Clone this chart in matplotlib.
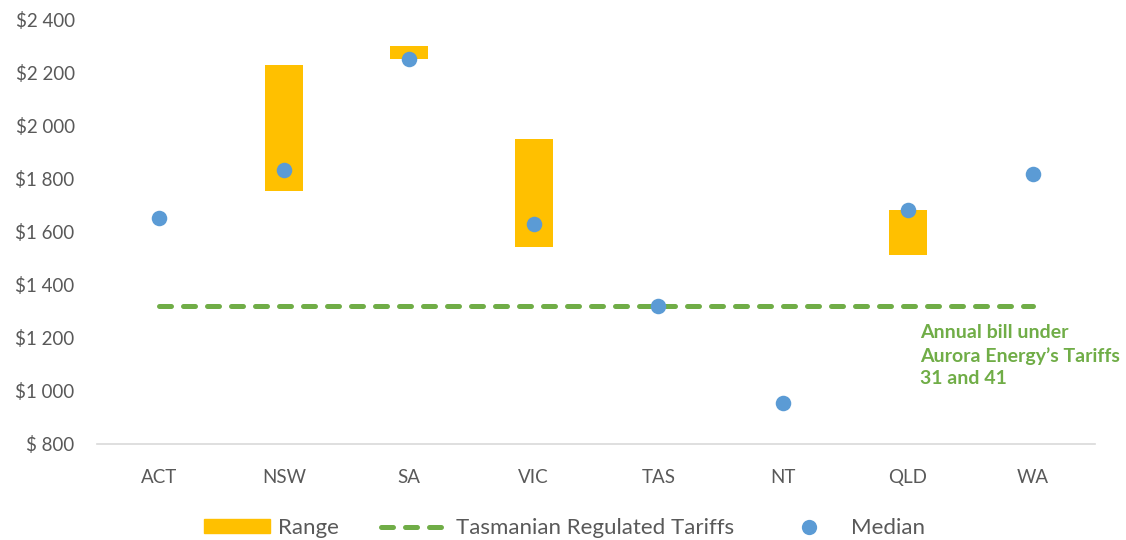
import numpy as np
import matplotlib.pyplot as plt
import matplotlib.lines as mlines
import matplotlib.patches as mpatches

# ---Data---
states = ['ACT', 'NSW', 'SA', 'VIC', 'TAS', 'NT', 'QLD', 'WA']
range_low = [np.nan, 1752, 2248, 1542, np.nan, np.nan, 1511, np.nan]
range_high = [np.nan, 2225, 2300, 1950, np.nan, np.nan, 1680, np.nan]
median = [1652, 1830, 2250, 1630, 1320, 955, 1680, 1815]
tas_tariff = 1320
yticks = [800, 1000, 1200, 1400, 1600, 1800, 2000, 2200, 2400]
ytick_labels = ['$ 800', '$1 000', '$1 200', '$1 400', '$1 600',
                '$1 800', '$2 000', '$2 200', '$2 400']

gold = '#FFC000'
blue = '#5B9BD5'
green = '#70AD47'
grey = '#595959'

plt.rcParams['font.family'] = ['Lato', 'DejaVu Sans']

fig = plt.figure(figsize=(11.26, 5.4), dpi=100)
ax = fig.add_axes([0.0861, 0.1778, 0.8864, 0.787])

x = np.arange(len(states))
low = np.array(range_low)
high = np.array(range_high)
ax.bar(x, high - low, bottom=low, width=0.305, color=gold, zorder=2)

# tariff line from first to last state
ax.plot([x[0], x[-1]], [tas_tariff, tas_tariff], color=green, lw=3.6,
        dashes=(2.4, 2.4), dash_capstyle='round', zorder=3)

ax.scatter(x, median, s=125, color=blue, zorder=4, linewidths=0)

ax.text(6.1, 1252, 'Annual bill under\nAurora Energy\u2019s Tariffs\n31 and 41',
        color=green, fontsize=14, fontweight='bold', va='top', ha='left',
        linespacing=1.4)

ax.set_xlim(-0.5, 7.5)
ax.set_ylim(800, 2400)
ax.set_xticks(x)
ax.set_xticklabels(states)
ax.set_yticks(yticks)
ax.set_yticklabels(ytick_labels)
ax.tick_params(length=0, labelsize=13.5, colors=grey)
ax.tick_params(axis='x', pad=18)
ax.tick_params(axis='y', pad=16)
for s in ['top', 'right', 'left']:
    ax.spines[s].set_visible(False)
ax.spines['bottom'].set_color('#D9D9D9')
ax.spines['bottom'].set_linewidth(1.2)

# legend
h_range = mpatches.Patch(color=gold, label='Range')
h_line = mlines.Line2D([], [], color=green, lw=3.6, dashes=(2.4, 2.4),
                       dash_capstyle='round', label='Tasmanian Regulated Tariffs')
h_med = mlines.Line2D([], [], color=blue, marker='o', ls='none', markersize=11,
                      markeredgewidth=0, label='Median')
leg = fig.legend(handles=[h_range, h_line, h_med], loc='center',
                 bbox_to_anchor=(0.501, 0.022), ncol=3, frameon=False,
                 fontsize=16, handlelength=3.0, handleheight=0.6,
                 columnspacing=1.9, handletextpad=0.35)
for t in leg.get_texts():
    t.set_color(grey)

fig.savefig('out.png', dpi=100)
